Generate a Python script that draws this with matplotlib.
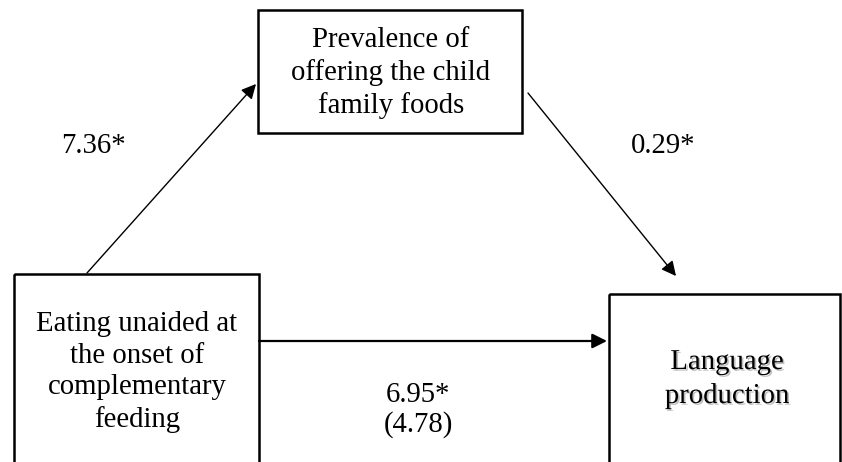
import matplotlib.pyplot as plt
import matplotlib.patheffects as pe
from matplotlib.patches import Rectangle

# labels for the three boxes and the path coefficients
box_labels = ['Prevalence of\noffering the child\nfamily foods',
              'Eating unaided at\nthe onset of\ncomplementary\nfeeding',
              'Language\nproduction']
path_a = '7.36*'
path_b = '0.29*'
path_c = '6.95*'
path_c_direct = '(4.78)'

plt.rcParams['font.family'] = ['Liberation Serif', 'DejaVu Serif']

fig = plt.figure(figsize=(8.42, 4.62), dpi=100)
ax = fig.add_axes([0, 0, 1, 1])
ax.set_xlim(0, 842)
ax.set_ylim(462, 0)
ax.axis('off')

# boxes (x, y, w, h) in pixel units
boxes = [(258, 10, 264, 123), (14, 274, 245, 230), (609, 294, 231, 230)]
for (x, y, w, h) in boxes:
    ax.add_patch(Rectangle((x, y), w, h, fill=False, edgecolor='black', lw=1.8))

fs = 20.7
ax.text(391, 73, box_labels[0], ha='center', va='center', fontsize=fs, linespacing=1.3)
ax.text(137, 372, box_labels[1], ha='center', va='center', fontsize=fs, linespacing=1.28)
ax.text(727, 379, box_labels[2], ha='center', va='center', fontsize=fs, linespacing=1.4,
        path_effects=[pe.SimplePatchShadow(offset=(1.2, -1.2), alpha=0.25, shadow_rgbFace='black'),
                      pe.Normal()])

# arrows
kw = dict(arrowstyle='-|>', color='black', mutation_scale=22, shrinkA=0, shrinkB=0)
ax.annotate('', xy=(256, 84), xytext=(87, 273), arrowprops=dict(lw=1.0, **kw))
ax.annotate('', xy=(676, 276), xytext=(528, 93), arrowprops=dict(lw=1.0, **kw))
ax.annotate('', xy=(607, 341), xytext=(259, 341), arrowprops=dict(lw=1.6, **kw))

ax.text(93, 153, path_a, ha='center', va='baseline', fontsize=fs)
ax.text(663, 153, path_b, ha='center', va='baseline', fontsize=fs)
ax.text(418, 402, path_c, ha='center', va='baseline', fontsize=fs)
ax.text(418, 432, path_c_direct, ha='center', va='baseline', fontsize=fs)

plt.savefig('out.png', dpi=100)
